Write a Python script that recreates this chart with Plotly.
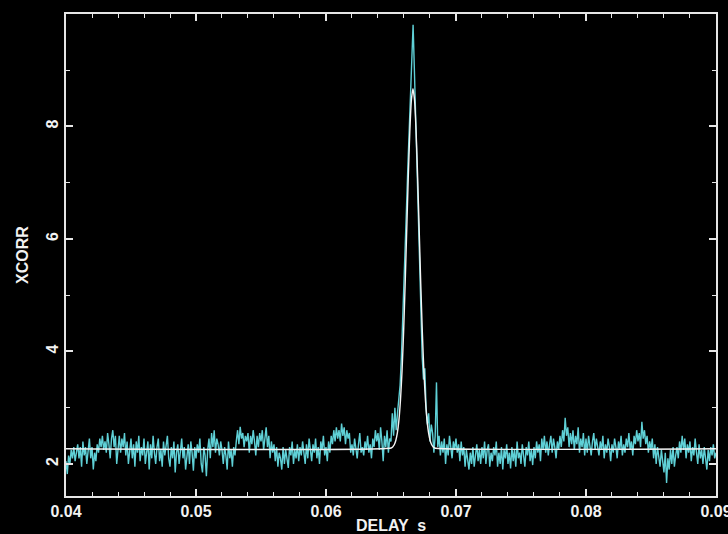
import plotly.graph_objects as go

# Cross-correlation values, one per 0.0001 s from 0.0400 s to 0.0900 s
xcorr = [
    2.05, 1.82, 2.15, 2.0, 2.25, 2.1, 2.3, 2.05, 2.2, 2.35,
    2.1, 2.3, 1.95, 2.4, 2.15, 2.3, 2.0, 2.25, 2.45, 2.1,
    2.3, 1.9, 2.2, 2.05, 2.35, 2.2, 2.45, 2.3, 2.5, 2.25,
    2.4, 2.2, 2.55, 2.35, 2.1, 2.45, 2.6, 2.3, 2.5, 2.0,
    2.35, 2.5, 2.2, 2.45, 2.3, 2.55, 2.15, 2.4, 2.0, 2.3,
    2.45, 2.1, 2.35, 1.95, 2.4, 2.2, 2.5, 2.05, 2.3, 2.15,
    2.45, 2.0, 2.25, 2.4, 1.9, 2.35, 2.1, 2.5, 2.2, 2.0,
    2.3, 2.45, 2.05, 2.25, 1.95, 2.4, 2.15, 2.35, 2.5, 2.1,
    1.95, 2.3, 2.1, 2.4, 1.85, 2.2, 2.35, 2.0, 2.25, 2.45,
    2.1, 2.3, 1.9, 2.15, 2.35, 2.0, 2.4, 2.2, 1.88, 2.3,
    2.1, 2.35, 2.2, 2.45, 2.0, 1.85, 2.3, 2.15, 1.78, 2.25,
    2.45, 2.1, 2.55, 2.3, 2.6, 2.2, 2.45, 2.35, 2.15, 2.4,
    2.25, 2.0, 2.3, 2.15, 1.9, 2.4, 2.1, 2.25, 1.95, 2.3,
    2.15, 2.4, 2.6, 2.35, 2.66, 2.45, 2.55, 2.3, 2.5, 2.4,
    2.55, 2.2, 2.5, 2.35, 2.6, 2.4, 2.15, 2.5, 2.3, 2.55,
    2.4, 2.6, 2.25, 2.45, 2.65, 2.3, 2.5, 2.1, 2.4, 2.2,
    2.35, 2.05, 2.3, 1.95, 2.2, 2.1, 1.9, 2.3, 2.0, 2.25,
    2.1, 1.93, 2.3, 2.15, 2.4, 2.0, 2.25, 2.1, 2.35, 2.05,
    2.3, 2.15, 2.4, 2.2, 2.0, 2.35, 2.1, 2.45, 2.25, 2.05,
    2.35, 2.2, 2.45, 2.1, 2.3, 2.0, 2.4, 2.25, 2.5, 2.15,
    2.3, 2.05, 2.4, 2.2, 2.5, 2.35, 2.6, 2.4, 2.65, 2.45,
    2.6, 2.4, 2.72, 2.5, 2.65, 2.35, 2.6, 2.45, 2.55, 2.2,
    2.35, 2.15, 2.45, 2.25, 2.1, 2.35, 2.55, 2.2, 2.3, 2.15,
    2.4, 2.25, 2.5, 2.2, 2.35, 2.1, 2.45, 2.3, 2.6, 2.4,
    2.55, 2.25, 2.65, 2.4, 2.05, 2.5, 2.3, 2.6, 2.2, 2.45,
    2.4, 2.9, 2.5, 3.0, 2.6, 2.9, 3.1, 3.4, 3.9, 4.5,
    5.2, 5.9, 6.6, 7.3, 8.0, 8.6, 9.3, 9.81, 9.0, 8.2,
    7.3, 6.4, 5.5, 4.6, 3.9, 3.5, 3.7, 3.0, 2.7, 2.9,
    2.4, 2.7, 2.55, 2.2, 2.5, 3.45, 2.3, 2.5, 2.15, 2.4,
    2.2, 2.45, 2.0, 2.35, 2.15, 2.5, 2.3, 2.1, 2.4, 2.25,
    2.45, 2.2, 2.35, 2.05, 2.4, 2.15, 2.3, 1.95, 2.25, 2.1,
    1.9, 2.2, 2.0, 2.3, 1.95, 2.15, 2.35, 2.05, 2.25, 2.0,
    2.3, 2.1, 2.4, 2.0, 2.25, 2.35, 1.95, 2.2, 2.05, 2.3,
    2.15, 2.4, 1.95, 2.2, 2.0, 2.3, 1.9, 2.25, 2.1, 2.35,
    2.0, 2.2, 1.92, 2.3, 2.05, 2.25, 1.95, 2.4, 2.1, 2.2,
    2.0, 2.35, 2.1, 1.95, 2.3, 2.15, 2.4, 2.05, 2.25, 1.98,
    2.3, 2.1, 2.4, 2.2, 2.35, 2.05, 2.45, 2.25, 2.5, 2.2,
    2.4, 2.15, 2.35, 2.5, 2.2, 2.45, 2.3, 2.1, 2.4, 2.25,
    2.5, 2.3, 2.6, 2.4, 2.82, 2.5, 2.65, 2.3, 2.55, 2.35,
    2.6, 2.25, 2.5, 2.35, 2.65, 2.2, 2.45, 2.3, 2.55, 2.15,
    2.45, 2.2, 2.5, 2.35, 2.15, 2.4, 2.55, 2.25, 2.45, 2.3,
    2.15, 2.4, 2.25, 2.5, 2.1, 2.35, 2.2, 2.45, 2.3, 2.05,
    2.35, 2.2, 2.45, 2.3, 2.1, 2.4, 2.25, 2.5, 2.15, 2.35,
    2.2, 2.45, 2.3, 2.55, 2.25, 2.4, 2.15, 2.5, 2.35, 2.6,
    2.4, 2.55, 2.3, 2.75, 2.45, 2.6, 2.35, 2.5, 2.2, 2.4,
    2.25, 2.45, 2.1, 2.35, 2.0, 2.3, 2.15, 1.95, 2.25, 2.05,
    1.85, 2.2, 1.66, 2.1, 1.9, 2.25, 2.0, 2.3, 1.95, 2.15,
    2.3, 2.1, 2.4, 2.2, 2.5, 2.25, 2.45, 2.1, 2.35, 2.2,
    2.4, 2.05, 2.3, 2.15, 2.45, 2.2, 2.0, 2.35, 2.1, 2.25,
    2.0, 2.3, 2.1, 1.9, 2.25, 2.05, 2.3, 2.15, 2.35, 2.1,
    2.2,
]
delay_start = 0.04
delay_step = 0.0001
delay = [round(delay_start + delay_step * i, 5) for i in range(len(xcorr))]

# Fitted model curve (white)
fit_delay = [0.04, 0.06501, 0.06513, 0.06525, 0.06537, 0.06549, 0.06561, 0.06573, 0.06585,
             0.06597, 0.06609, 0.06621, 0.06633, 0.06645, 0.06657, 0.06669, 0.06681, 0.06693,
             0.06705, 0.06717, 0.06729, 0.06741, 0.06753, 0.06765, 0.06777, 0.06789, 0.06801,
             0.06813, 0.06825, 0.06837, 0.09]
fit_xcorr = [2.27, 2.284, 2.303, 2.341, 2.416, 2.551, 2.779, 3.136, 3.654, 4.348, 5.200,
             6.152, 7.101, 7.918, 8.473, 8.67, 8.473, 7.918, 7.101, 6.152, 5.200, 4.348,
             3.654, 3.136, 2.779, 2.551, 2.416, 2.341, 2.303, 2.284, 2.27]

x_ticks = [0.04, 0.05, 0.06, 0.07, 0.08, 0.09]
x_tick_text = ["0.04", "0.05", "0.06", "0.07", "0.08", "0.09"]
y_ticks = [2, 4, 6, 8]
y_tick_text = ["2", "4", "6", "8"]

AX = "#e6e6e6"
FONT = dict(family="Liberation Sans, Arial, sans-serif", size=16, color="#f2f2f2",
            weight="bold")

fig = go.Figure()
fig.add_trace(go.Scatter(x=delay, y=xcorr, mode="lines",
                         line=dict(color="#5fd0d6", width=1.4), showlegend=False))
fig.add_trace(go.Scatter(x=fit_delay, y=fit_xcorr, mode="lines",
                         line=dict(color="#f4f4f4", width=1.4, shape="spline", smoothing=0.6),
                         showlegend=False))

fig.update_layout(
    width=728, height=534,
    paper_bgcolor="black", plot_bgcolor="black",
    margin=dict(l=66, r=12, t=14, b=38, autoexpand=False),
    font=FONT,
    xaxis=dict(range=[0.04, 0.090002], tickvals=x_ticks, ticktext=x_tick_text,
               ticks="inside", ticklen=7, tickwidth=1.5, tickcolor=AX,
               showline=True, linecolor=AX, linewidth=2, mirror="ticks",
               showgrid=False, zeroline=False, tickfont=FONT,
               ticklabeloverflow="allow", automargin=False,
               minor=dict(dtick=0.002, tick0=0.04, ticks="inside", ticklen=4,
                          tickcolor=AX, tickwidth=1, showgrid=False)),
    yaxis=dict(range=[1.43, 10.0], tickvals=y_ticks, ticktext=y_tick_text,
               ticks="inside", ticklen=7, tickwidth=1.5, tickcolor=AX,
               showline=True, linecolor=AX, linewidth=2, mirror="ticks",
               showgrid=False, zeroline=False, tickfont=FONT, tickangle=-90,
               automargin=False,
               minor=dict(dtick=1, tick0=0, ticks="inside", ticklen=4,
                          tickcolor=AX, tickwidth=1, showgrid=False)),
    annotations=[
        dict(text="DELAY  s", xref="paper", yref="paper", x=0.5, y=0, yshift=-29,
             xanchor="center", yanchor="middle", showarrow=False, font=FONT),
        dict(text="XCORR", xref="paper", yref="paper", x=0, y=0.5, xshift=-44,
             xanchor="center", yanchor="middle", showarrow=False, textangle=-90, font=FONT),
    ],
)

fig.write_html("out.html", config={"displayModeBar": False},
               post_script="document.body.style.margin='0';"
                           "document.body.style.background='black';")
